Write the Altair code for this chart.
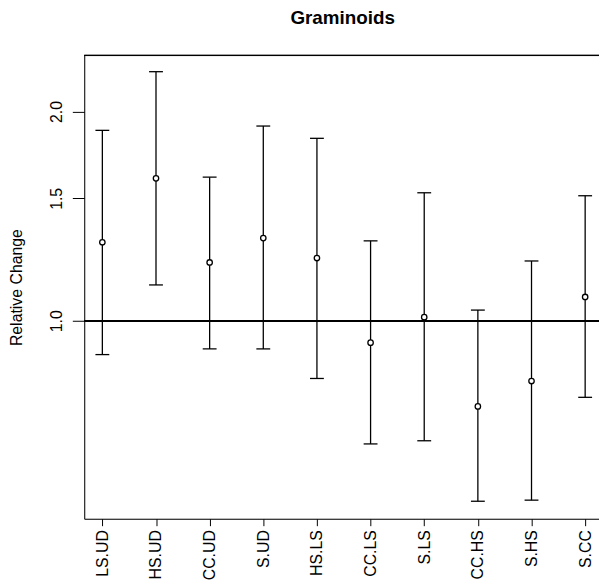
import altair as alt
import pandas as pd

categories = ["LS.UD", "HS.UD", "CC.UD", "S.UD", "HS.LS", "CC.LS", "S.LS", "CC.HS", "S.HS", "S.CC"]
estimate = [1.297, 1.603, 1.213, 1.315, 1.231, 0.930, 1.012, 0.753, 0.819, 1.082]
lower = [0.894, 1.126, 0.911, 0.911, 0.826, 0.665, 0.672, 0.550, 0.552, 0.776]
upper = [1.879, 2.282, 1.609, 1.906, 1.830, 1.303, 1.528, 1.036, 1.219, 1.513]
y_ticks = [1.0, 1.5, 2.0]
chart_title = ["Graminoids"]

df = pd.DataFrame({"comparison": categories, "estimate": estimate,
                   "lower": lower, "upper": upper})

FONT = "Liberation Sans"

x_enc = alt.X("comparison:N", sort=categories, title=None,
              scale=alt.Scale(type="point", padding=0.298, align=0.567),
              axis=alt.Axis(labelAngle=270, labelAlign="right", labelBaseline="middle",
                            labelFontSize=16, labelFont=FONT, labelColor="black",
                            tickSize=7, tickColor="black", tickWidth=1,
                            domainColor="black", domainWidth=1, labelPadding=4,
                            grid=False))

y_scale = alt.Scale(type="log", domain=[0.519, 2.408], nice=False, zero=False)
y_axis = alt.Axis(values=y_ticks, format=".1f", title="Relative Change",
                  labelAngle=270, labelAlign="center", labelBaseline="alphabetic",
                  labelFontSize=16, labelFont=FONT, labelColor="black",
                  labelPadding=11, tickSize=12, tickColor="black", tickWidth=1,
                  domainColor="black", domainWidth=1, grid=False,
                  titleFont=FONT, titleFontSize=16, titleFontWeight="normal",
                  titleColor="black", titleAngle=270, titleAlign="center",
                  titleBaseline="alphabetic", titleX=-63, titleY=234)

base = alt.Chart(df)

bars = base.mark_rule(color="black", strokeWidth=1.3).encode(
    x=x_enc,
    y=alt.Y("lower:Q", scale=y_scale, axis=y_axis),
    y2="upper:Q",
)
caps_up = base.mark_tick(color="black", size=14, thickness=1.3, opacity=1).encode(
    x=x_enc, y=alt.Y("upper:Q", scale=y_scale))
caps_lo = base.mark_tick(color="black", size=14, thickness=1.3, opacity=1).encode(
    x=x_enc, y=alt.Y("lower:Q", scale=y_scale))
ref = alt.Chart(df).mark_rule(color="black", strokeWidth=1.3).encode(
    y=alt.datum(1.0, scale=y_scale))
top = alt.Chart(df).mark_rule(color="black", strokeWidth=1).encode(y=alt.value(0))
pts = base.mark_point(shape="circle", filled=False, fill="white", stroke="black",
                      strokeWidth=1.3, size=30, opacity=1).encode(
    x=x_enc, y=alt.Y("estimate:Q", scale=y_scale))
title = alt.Chart(pd.DataFrame({"t": chart_title})).mark_text(
    font=FONT, fontSize=19, fontWeight="bold", color="black",
    align="center", baseline="alphabetic").encode(
    text="t:N", x=alt.value(261), y=alt.value(-31.5))

chart = alt.layer(top, ref, bars, caps_up, caps_lo, pts, title).properties(
    width=520, height=468,
    autosize=alt.AutoSizeParams(type="none"),
    padding={"left": 77, "top": 45, "right": 0, "bottom": 67},
).configure_view(stroke=None).configure(background="white")

chart.save("out.html", embed_options={"renderer": "svg", "actions": False})
